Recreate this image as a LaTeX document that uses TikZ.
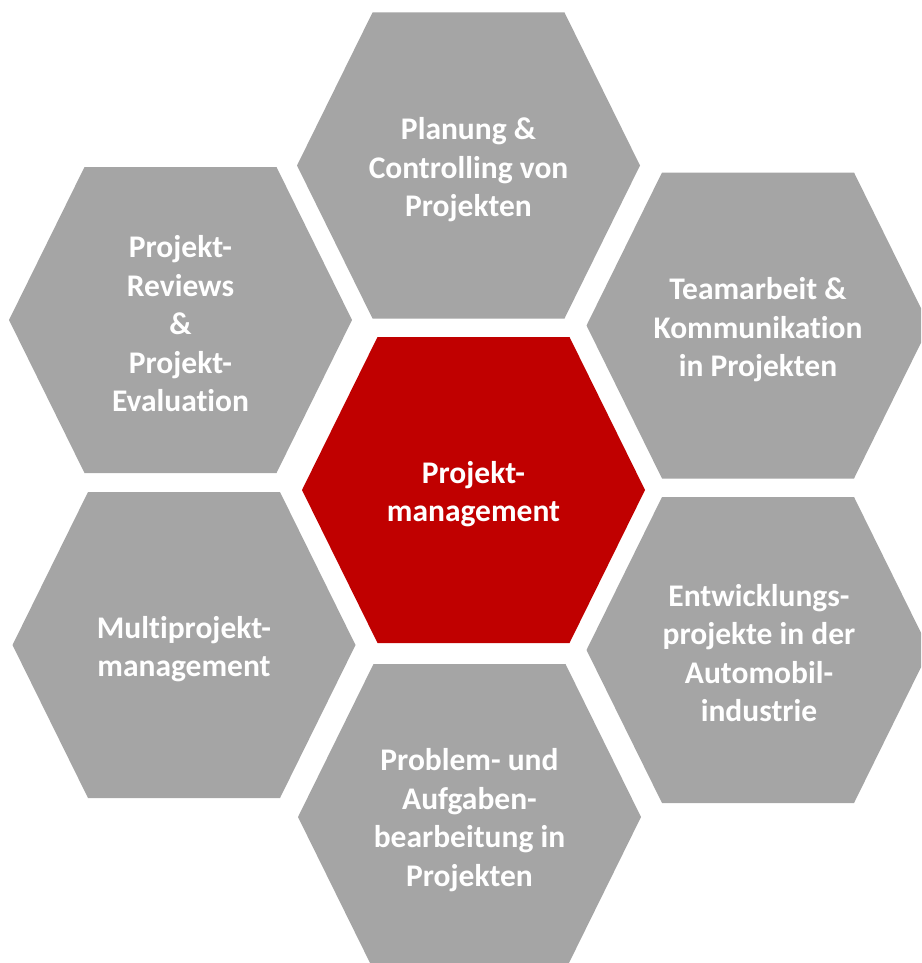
\documentclass[tikz,border=0pt]{standalone}
\usepackage{fontspec}
\setmainfont[Ligatures=NoCommon]{Carlito}
\usepackage{xcolor}
\definecolor{hexgray}{RGB}{165,165,165}
\definecolor{hexred}{RGB}{192,0,0}

\tikzset{
  hexgrey/.style={fill=hexgray},
  hexcore/.style={fill=hexred},
  hextext/.style={text=white, align=center, inner sep=0pt,
    font=\fontsize{31.5}{38.5}\selectfont\bfseries},
}

\begin{document}
\begin{tikzpicture}[x=1pt,y=1pt,yscale=-1,xscale=1]
%set diagram to 921 x 963, cut off the parts beyond
\clip (0,0) rectangle (921,963);

%Hexagon top
\fill[hexgrey] (468.5,165.5) ++(-171.5,0) -- ++(75.5,-153) -- ++(192,0) -- ++(75.5,153) -- ++(-75.5,153) -- ++(-192,0) -- cycle;
%Hexagon upper left
\fill[hexgrey] (180.5,320) ++(-171.5,0) -- ++(75.5,-153) -- ++(192,0) -- ++(75.5,153) -- ++(-75.5,153) -- ++(-192,0) -- cycle;
%Hexagon upper right
\fill[hexgrey] (758,325.5) ++(-171.5,0) -- ++(75.5,-153) -- ++(192,0) -- ++(75.5,153) -- ++(-75.5,153) -- ++(-192,0) -- cycle;
%Hexagon centre
\fill[hexcore] (473.5,490) ++(-171.5,0) -- ++(75.5,-153) -- ++(192,0) -- ++(75.5,153) -- ++(-75.5,153) -- ++(-192,0) -- cycle;
%Hexagon lower left
\fill[hexgrey] (184,645) ++(-171.5,0) -- ++(75.5,-153) -- ++(192,0) -- ++(75.5,153) -- ++(-75.5,153) -- ++(-192,0) -- cycle;
%Hexagon lower right
\fill[hexgrey] (758,650) ++(-171.5,0) -- ++(75.5,-153) -- ++(192,0) -- ++(75.5,153) -- ++(-75.5,153) -- ++(-192,0) -- cycle;
%Hexagon bottom
\fill[hexgrey] (469.5,817) ++(-171.5,0) -- ++(75.5,-153) -- ++(192,0) -- ++(75.5,153) -- ++(-75.5,153) -- ++(-192,0) -- cycle;

% Text Nodes
\node[hextext] (planung) at (468.5,170) {Planung \&\\Controlling von\\Projekten};
\node[hextext] (reviews) at (180.5,324) {Projekt-\\Reviews\\\&\\Projekt-\\Evaluation};
\node[hextext] (teamarbeit) at (758,330) {Teamarbeit \&\\Kommunikation\\in Projekten};
\node[hextext] (pm) at (473.5,494) {Projekt-\\management};
\node[hextext] (multi) at (184,649) {Multiprojekt-\\management};
\node[hextext] (entwicklung) at (759,653) {Entwicklungs-\\projekte in der\\Automobil-\\industrie};
\node[hextext] (problem) at (469.5,820) {Problem- und\\Aufgaben-\\bearbeitung in\\Projekten};

\end{tikzpicture}
\end{document}
